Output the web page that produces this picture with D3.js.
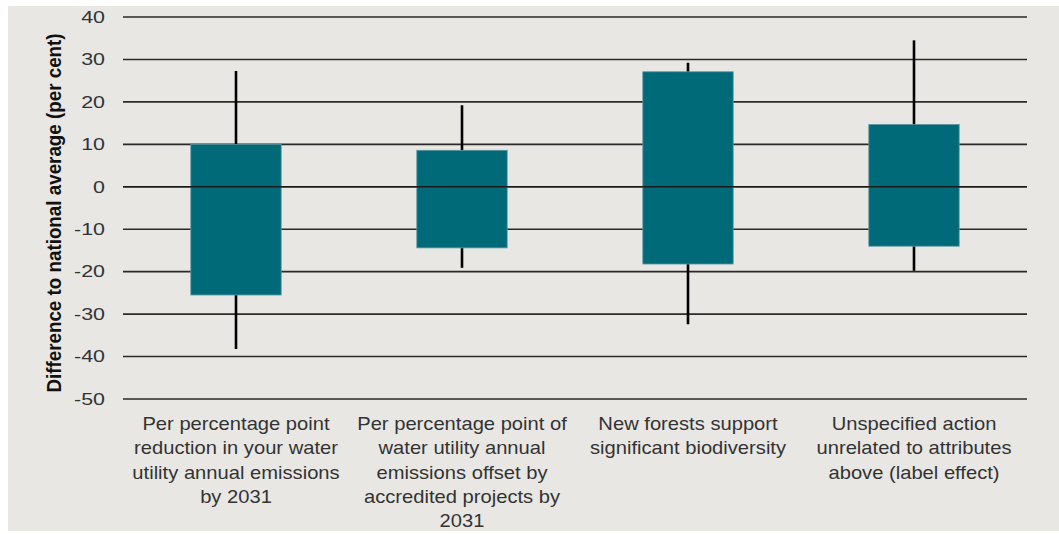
<!DOCTYPE html>
<html>
<head>
<meta charset="utf-8">
<script src="https://cdn.jsdelivr.net/npm/d3@7"></script>
<style>
  html, body { margin: 0; padding: 0; background: #ffffff; }
  svg { display: block; }
  .tick-label { font-family: "Liberation Sans", Arial, sans-serif; fill: #333; }
  .cat-label { font-family: "Liberation Sans", Arial, sans-serif; fill: #333; }
  .y-title { font-family: "Liberation Sans", Arial, sans-serif; font-weight: bold; fill: #111; }
</style>
</head>
<body>
<svg id="chart"></svg>
<script>
// categories, split into the lines used under the axis
const categories = [
  "Per percentage point reduction in your water utility annual emissions by 2031",
  "Per percentage point of water utility annual emissions offset by accredited projects by 2031",
  "New forests support significant biodiversity",
  "Unspecified action unrelated to attributes above (label effect)"
];
const categoryLines = [
  ["Per percentage point", "reduction in your water", "utility annual emissions", "by 2031"],
  ["Per percentage point of", "water utility annual", "emissions offset by", "accredited projects by", "2031"],
  ["New forests support", "significant biodiversity"],
  ["Unspecified action", "unrelated to attributes", "above (label effect)"]
];

// box range (upper / lower) and whisker range (high / low), per cent
const boxUpper = [10, 8.6, 27.1, 14.7];
const boxLower = [-25.5, -14.4, -18.2, -14.0];
const whiskerHigh = [27.3, 19.2, 29.2, 34.5];
const whiskerLow = [-38.2, -19.1, -32.4, -19.8];

const yTicks = [40, 30, 20, 10, 0, -10, -20, -30, -40, -50];
const yTitle = "Difference to national average (per cent)";

class RangeBoxVis {
  constructor(_config) {
    this.config = {
      parentElement: _config.parentElement,
      width: 1059,
      height: 534,
      margin: { top: 17, right: 32, bottom: 135, left: 123 }
    };
  }

  initVis() {
    let vis = this;
    const c = vis.config;
    vis.innerWidth = c.width - c.margin.left - c.margin.right;
    vis.innerHeight = c.height - c.margin.top - c.margin.bottom;

    vis.svg = d3.select(c.parentElement)
      .attr('width', c.width)
      .attr('height', c.height);

    // grey panel behind the chart
    vis.svg.append('rect')
      .attr('x', 8).attr('y', 6)
      .attr('width', c.width - 8).attr('height', 525)
      .attr('fill', '#e8e7e3');

    vis.chart = vis.svg.append('g')
      .attr('transform', `translate(${c.margin.left},${c.margin.top})`);

    vis.xScale = d3.scaleBand()
      .domain(categories)
      .range([0, vis.innerWidth])
      .paddingInner(0.6)
      .paddingOuter(0.3);

    vis.yScale = d3.scaleLinear()
      .domain([-50, 40])
      .range([vis.innerHeight, 0]);

    vis.renderVis();
  }

  renderVis() {
    let vis = this;
    const x = vis.xScale, y = vis.yScale;

    // horizontal grid lines
    vis.chart.append('g')
      .selectAll('line')
      .data(yTicks)
      .join('line')
      .attr('x1', 0).attr('x2', vis.innerWidth)
      .attr('y1', d => y(d)).attr('y2', d => y(d))
      .attr('stroke', '#2a2a2a')
      .attr('stroke-width', 1.6);

    // whiskers
    vis.chart.append('g')
      .selectAll('line')
      .data(categories)
      .join('line')
      .attr('x1', d => x(d) + x.bandwidth() / 2)
      .attr('x2', d => x(d) + x.bandwidth() / 2)
      .attr('y1', (d, i) => y(whiskerHigh[i]))
      .attr('y2', (d, i) => y(whiskerLow[i]))
      .attr('stroke', '#000')
      .attr('stroke-width', 2.6);

    // boxes
    vis.chart.append('g')
      .selectAll('rect')
      .data(categories)
      .join('rect')
      .attr('x', d => x(d))
      .attr('width', x.bandwidth())
      .attr('y', (d, i) => y(boxUpper[i]))
      .attr('height', (d, i) => y(boxLower[i]) - y(boxUpper[i]))
      .attr('fill', '#006a78')
      .attr('stroke', '#5f9aa3')
      .attr('stroke-width', 0.8);

    // zero line sits on top of the boxes
    vis.chart.append('line')
      .attr('x1', 0).attr('x2', vis.innerWidth)
      .attr('y1', y(0)).attr('y2', y(0))
      .attr('stroke', '#1a1a1a')
      .attr('stroke-width', 1.4);

    // y tick labels (text is a bit wide in the original, hence the x-stretch)
    vis.chart.append('g')
      .selectAll('text')
      .data(yTicks)
      .join('text')
      .attr('class', 'tick-label')
      .attr('transform', d => `translate(-18,${y(d)}) scale(1.3,1)`)
      .attr('text-anchor', 'end')
      .attr('dy', '0.35em')
      .style('font-size', '16.5px')
      .text(d => d);

    // category labels
    const labelG = vis.chart.append('g')
      .selectAll('g')
      .data(categories)
      .join('g')
      .attr('transform', d => `translate(${x(d) + x.bandwidth() / 2},${vis.innerHeight + 31}) scale(1.12,1)`);

    labelG.selectAll('text')
      .data((d, i) => categoryLines[i])
      .join('text')
      .attr('class', 'cat-label')
      .attr('text-anchor', 'middle')
      .attr('y', (d, i) => i * 24.3)
      .style('font-size', '18px')
      .text(d => d);

    // y axis title
    vis.svg.append('text')
      .attr('class', 'y-title')
      .attr('transform', `translate(61,213) scale(1.1,1) rotate(-90)`)
      .attr('text-anchor', 'middle')
      .style('font-size', '18.8px')
      .text(yTitle);
  }
}

const vis = new RangeBoxVis({ parentElement: '#chart' });
vis.initVis();
</script>
</body>
</html>
